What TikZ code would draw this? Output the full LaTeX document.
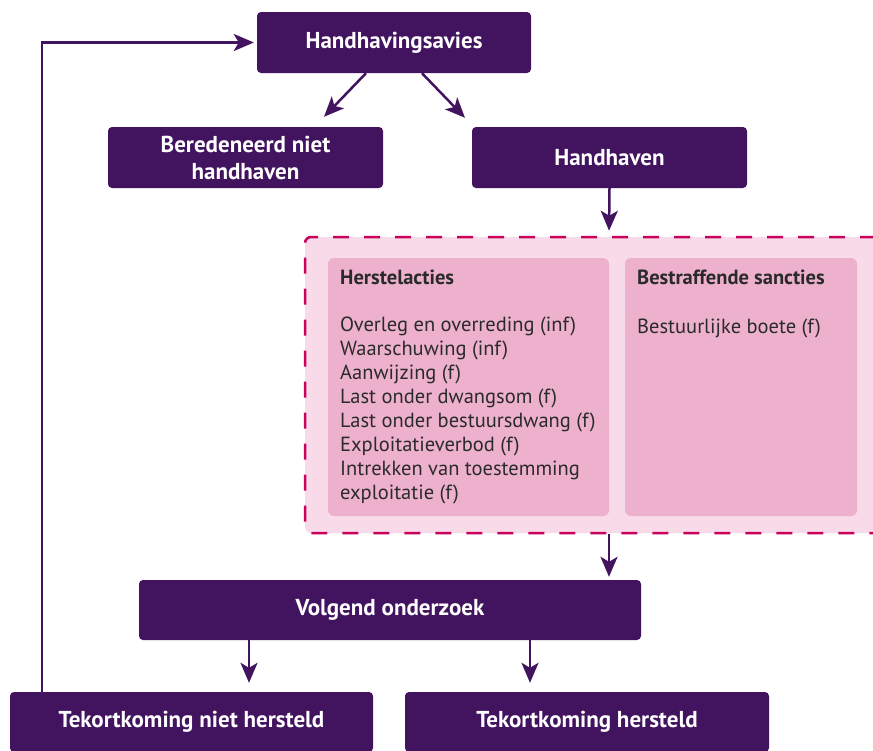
\documentclass[tikz,border=0pt]{standalone}
\usepackage{fontspec}
\setmainfont{PT Sans}
\usetikzlibrary{arrows.meta}

\definecolor{paars}{HTML}{42145F}
\definecolor{roze}{HTML}{F9DAE8}
\definecolor{rozevlak}{HTML}{EEB1CD}
\definecolor{robijn}{HTML}{CA005D}
\definecolor{tekst}{HTML}{2A2A2A}

\begin{document}
\begin{tikzpicture}[x=1pt,y=-1pt,
  blok/.style={fill=paars,text=white,rounded corners=4pt,inner sep=0pt,
    align=center,font=\fontsize{23}{27}\selectfont\bfseries},
  kader/.style={fill=roze,draw=robijn,line width=2.5pt,
    dash pattern=on 16pt off 15pt,rounded corners=6pt,inner sep=0pt},
  vlak/.style={fill=rozevlak,rounded corners=6pt,inner sep=0pt},
  kop/.style={text=tekst,inner sep=0pt,font=\fontsize{20.5}{24}\selectfont\bfseries},
  lijst/.style={text=tekst,inner sep=0pt,align=left,
    font=\fontsize{20.5}{24}\selectfont},
  pijl/.style={draw=paars,line width=2.5pt,
    -{Stealth[length=20pt,width=17pt,inset=5pt]}}]
  \useasboundingbox (0,0) rectangle (873,750);
  \clip (0,0) rectangle (873,750);
  \fill[white] (0,0) rectangle (873,750);

  % bovenste rij
  \node[blok,minimum width=274,minimum height=61] (avies) at (394,42.5)
    {Handhavingsavies};
  \node[blok,minimum width=275,minimum height=61] (niet) at (245.5,157.5)
    {Beredeneerd niet\\handhaven};
  \node[blok,minimum width=275,minimum height=61] (handhaven) at (609.5,157.5)
    {Handhaven};

  % sancties
  \node[kader,minimum width=608,minimum height=296] (acties) at (609,385) {};
  \node[vlak,minimum width=281,minimum height=258] (herstel) at (468.5,387) {};
  \node[vlak,minimum width=232,minimum height=258] (bestraf) at (741,387) {};
  \node[kop,anchor=base west] (herstelkop) at (340,284) {Herstelacties};
  \node[lijst,anchor=north west] (herstellijst) at (340,317)
    {Overleg en overreding (inf)\\
     Waarschuwing (inf)\\
     Aanwijzing (f)\\
     Last onder dwangsom (f)\\
     Last onder bestuursdwang (f)\\
     Exploitatieverbod (f)\\
     Intrekken van toestemming\\
     exploitatie (f)};
  \node[kop,anchor=base west] (bestrafkop) at (637,284) {Bestraffende sancties};
  \node[lijst,anchor=base west] (bestraflijst) at (637,333)
    {Bestuurlijke boete (f)};

  % onderste rij
  \node[blok,minimum width=502,minimum height=60] (volgend) at (390,610)
    {Volgend onderzoek};
  \node[blok,minimum width=363,minimum height=60] (nh) at (191.5,722)
    {Tekortkoming niet hersteld};
  \node[blok,minimum width=364,minimum height=60] (h) at (587,722)
    {Tekortkoming hersteld};

  % pijlen
  \draw[pijl] ([xshift=-28]avies.south) -- ([xshift=78.5,yshift=10]niet.north);
  \draw[pijl] ([xshift=28]avies.south) -- ([xshift=-144.5,yshift=9]handhaven.north);
  \draw[pijl,shorten >=5pt] (handhaven.south) -- (acties.north);
  \draw[pijl,shorten >=3pt] (acties.south) -- (acties.south |- volgend.north);
  \draw[pijl,shorten >=9pt] ([xshift=-141]volgend.south)
    -- ([xshift=-141]volgend.south |- nh.north);
  \draw[pijl,shorten >=9pt] ([xshift=140]volgend.south)
    -- ([xshift=140]volgend.south |- h.north);
  \draw[pijl,shorten >=3pt] ([xshift=32]nh.north west) |- (avies.west);
\end{tikzpicture}
\end{document}
